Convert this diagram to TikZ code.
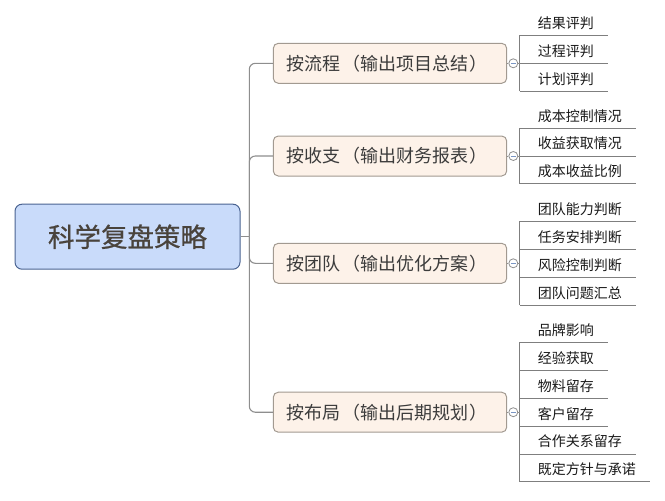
\documentclass[tikz,border=0pt]{standalone}
\usepackage{fontspec}
\setmainfont{Noto Sans CJK SC}
\definecolor{rootfill}{HTML}{C9DBFA}
\definecolor{rootdraw}{HTML}{4A6391}
\definecolor{brfill}{HTML}{FDF2E9}
\definecolor{brdraw}{HTML}{A29A91}
\definecolor{conncol}{HTML}{8E8E8E}
\definecolor{leafcol}{HTML}{7F7F7F}
\definecolor{txtdark}{HTML}{3C3C3C}
\definecolor{minuscol}{HTML}{7A96C4}
\begin{document}
\begin{tikzpicture}[x=1pt,y=-1pt,
  rootbox/.style={rectangle, rounded corners=7pt, fill=rootfill, draw=rootdraw, line width=1pt,
    minimum width=225pt, minimum height=65pt, inner sep=0pt, text=txtdark!90!brown,
    font=\fontsize{26.5}{26.5}\selectfont\addfontfeature{FakeBold=0.8}},
  branchbox/.style={rectangle, rounded corners=5pt, fill=brfill, draw=brdraw, line width=1pt,
    minimum height=40pt, text width=206.8pt, inner xsep=13.3pt, inner ysep=0pt, align=left,
    text=txtdark, font=\fontsize{18}{18}\selectfont},
  collapse/.style={circle, minimum size=9pt, inner sep=0pt, draw=conncol, fill=white, line width=0.8pt,
    path picture={\draw[minuscol, line width=0.8pt] ([xshift=-2.4pt]path picture bounding box.center) -- ([xshift=2.4pt]path picture bounding box.center);}},
  leaf/.style={anchor=south west, inner xsep=14pt, inner ysep=6.9pt, text depth=0pt, text=black!90,
    font=\fontsize{14}{14}\selectfont},
  conn/.style={draw=conncol, line width=1.1pt},
  leafline/.style={draw=leafcol, line width=1pt}
]
\useasboundingbox (0,0) rectangle (665,501);

% root
\node[rootbox] (root) at (127.5,236.7) {科学复盘策略};
\coordinate (j) at (249.3,236.7);

% branches
\node[branchbox] (b1) at (390,63.3) {按流程\kern1.5pt（输出项目总结\kern1.5pt）};
\node[branchbox] (b2) at (390,156) {按收支\kern1.5pt（输出财务报表\kern1.5pt）};
\node[branchbox] (b3) at (390,263.3) {按团队\kern1.5pt（输出优化方案\kern1.5pt）};
\node[branchbox] (b4) at (390,412.2) {按布局\kern1.5pt（输出后期规划\kern1.5pt）};

\draw[conn] (root.east) -- (j);
\foreach \b in {b1,b2,b3,b4} {
  \draw[conn, rounded corners=6pt] (\b.west) -| (j);
}

% collapse circles
\node[collapse] (c1) at (513.3,63.3) {};
\node[collapse] (c2) at (513.3,156) {};
\node[collapse] (c3) at (513.3,263.3) {};
\node[collapse] (c4) at (513.3,412.2) {};

% leaves group 1
\node[leaf] (l11) at (519.7,35.4) {\hspace{4pt}结果评判};
\node[leaf] (l12) at (519.7,63.3) {\hspace{4pt}过程评判};
\node[leaf] (l13) at (519.7,91.2) {\hspace{4pt}计划评判};
% group 2
\node[leaf] (l21) at (519.7,128.1) {\hspace{4pt}成本控制情况};
\node[leaf] (l22) at (519.7,156.0) {\hspace{4pt}收益获取情况};
\node[leaf] (l23) at (519.7,183.9) {\hspace{4pt}成本收益比例};
% group 3
\node[leaf] (l31) at (519.7,221.45) {\hspace{4pt}团队能力判断};
\node[leaf] (l32) at (519.7,249.35) {\hspace{4pt}任务安排判断};
\node[leaf] (l33) at (519.7,277.25) {\hspace{4pt}风险控制判断};
\node[leaf] (l34) at (519.7,305.15) {\hspace{4pt}团队问题汇总};
% group 4
\node[leaf] (l41) at (519.7,342.45) {\hspace{4pt}品牌影响};
\node[leaf] (l42) at (519.7,370.35) {\hspace{4pt}经验获取};
\node[leaf] (l43) at (519.7,398.25) {\hspace{4pt}物料留存};
\node[leaf] (l44) at (519.7,426.15) {\hspace{4pt}客户留存};
\node[leaf] (l45) at (519.7,454.05) {\hspace{4pt}合作关系留存};
\node[leaf] (l46) at (519.7,481.95) {\hspace{4pt}既定方针与承诺};

\foreach \n in {l11,l12,l13,l21,l22,l23,l31,l32,l33,l34,l41,l42,l43,l44,l45,l46} {
  \draw[leafline] (\n.south west) -- (\n.south east);
}
\draw[leafline] (l11.south west) -- (l13.south west);
\draw[leafline] (l21.south west) -- (l23.south west);
\draw[leafline] (l31.south west) -- (l34.south west);
\draw[leafline] (l41.south west) -- (l46.south west);

% branch to circle to leaf bar
\foreach \i/\f in {1/l11,2/l21,3/l31,4/l41} {
  \draw[conn, line width=0.9pt] (b\i.east) -- (c\i.west);
  \draw[conn, line width=0.9pt] (c\i.east) -- (c\i.east -| \f.south west);
}
\end{tikzpicture}
\end{document}
